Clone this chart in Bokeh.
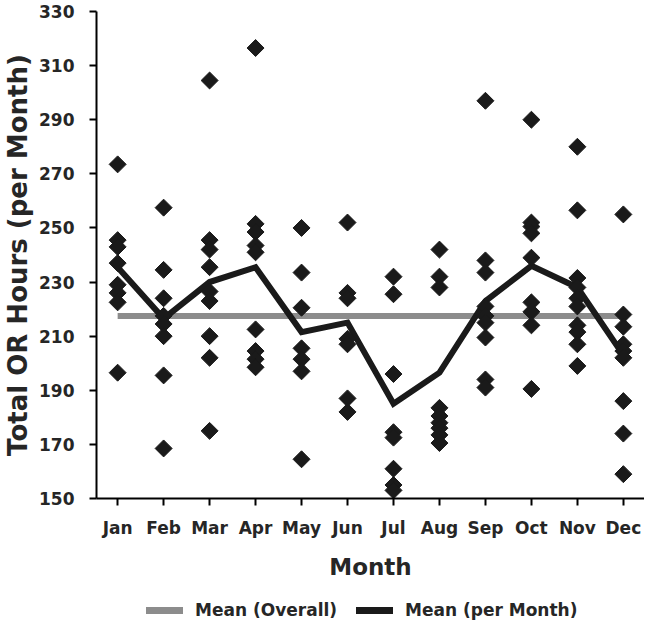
from bokeh.plotting import figure
from bokeh.layouts import column
from bokeh.models import FixedTicker, Range1d, Legend, LegendItem, ColumnDataSource
from bokeh.embed import file_html
from bokeh.resources import INLINE
import math

months = ["Jan", "Feb", "Mar", "Apr", "May", "Jun", "Jul", "Aug", "Sep", "Oct", "Nov", "Dec"]

jan = [273.5, 245.5, 243, 237, 229, 226, 222.5, 196.5]
feb = [257.5, 234.5, 224, 217.5, 214.5, 210, 195.5, 168.5]
mar = [304.5, 245.5, 242, 235.5, 226.5, 223, 210, 202, 175]
apr = [316.5, 251.5, 248.5, 243.5, 241, 212.5, 204.5, 201.5, 198.5]
may = [250, 233.5, 220.5, 205.5, 201.5, 197, 164.5]
jun = [252, 226, 224, 209, 207, 187, 182]
jul = [232, 225.5, 196, 174.5, 172.5, 161, 155, 153]
aug = [242, 232, 228, 183.5, 180.5, 178, 176, 173.5, 170.5]
sep = [297, 238, 233.5, 221, 217.5, 215, 209.5, 194, 191]
oct_ = [290, 252, 250.5, 248, 239, 222.5, 219, 214, 190.5]
nov = [280, 256.5, 231.5, 228, 224, 221, 214, 211.5, 207, 199]
dec = [255, 218, 213.5, 207, 204.5, 202, 186, 174, 159]

monthly_mean = [235.5, 216.5, 230, 235.5, 211.5, 215, 185, 196.5, 223, 236, 228, 203]
overall_mean = 217.5

y_ticks = [150, 170, 190, 210, 230, 250, 270, 290, 310, 330]

all_months = [jan, feb, mar, apr, may, jun, jul, aug, sep, oct_, nov, dec]
xs, ys = [], []
for i, vals in enumerate(all_months):
    for v in vals:
        xs.append(i + 1)
        ys.append(v)
pts = ColumnDataSource(dict(x=xs, y=ys))
month_idx = list(range(1, len(months) + 1))

FONT = "DejaVu Sans"
TXT = "#262626"
GRAY = "#8c8c8c"
BLACK = "#1a1a1a"

p = figure(frame_width=548, frame_height=487,
           x_range=Range1d(0.54, 12.46), y_range=Range1d(150, 330),
           output_backend="svg", toolbar_location=None,
           min_border_left=93, min_border_top=11, min_border_right=0, min_border_bottom=84)
p.xgrid.visible = False
p.ygrid.visible = False
p.outline_line_color = None
p.background_fill_color = "white"
p.border_fill_color = "white"

p.line([1, 12], [overall_mean, overall_mean], line_color=GRAY, line_width=6)
p.line(month_idx, monthly_mean, line_color=BLACK, line_width=6, line_join="miter")
p.scatter("x", "y", source=pts, marker="square", angle=math.pi / 4, size=12,
          fill_color=BLACK, line_color=BLACK)

for ax in (p.xaxis[0], p.yaxis[0]):
    ax.axis_line_color = "black"
    ax.axis_line_width = 2
    ax.major_tick_line_color = "black"
    ax.major_tick_line_width = 2
    ax.major_tick_out = 7
    ax.major_tick_in = 0
    ax.minor_tick_line_color = None
    ax.major_label_text_font = FONT
    ax.major_label_text_font_style = "bold"
    ax.major_label_text_font_size = "17px"
    ax.major_label_text_color = TXT
    ax.axis_label_text_font = FONT
    ax.axis_label_text_font_style = "bold"
    ax.axis_label_text_color = TXT

p.yaxis.ticker = FixedTicker(ticks=y_ticks)
p.yaxis.major_label_standoff = 15
p.yaxis.axis_label = "Total OR Hours (per Month)"
p.yaxis.axis_label_text_font_size = "26px"
p.yaxis.axis_label_standoff = 3

p.xaxis.ticker = FixedTicker(ticks=month_idx)
p.xaxis.major_label_overrides = {i + 1: m for i, m in enumerate(months)}
p.xaxis.major_label_standoff = 12
p.xaxis.axis_label = "Month"
p.xaxis.axis_label_text_font_size = "23px"
p.xaxis.axis_label_standoff = 13

# legend strip below the chart (its frame is aligned with the chart's frame)
lg = figure(width=641, height=40, x_range=Range1d(0, 1), y_range=Range1d(0, 1),
            output_backend="svg", toolbar_location=None,
            x_axis_type=None, y_axis_type=None, min_border=0)
lg.xgrid.visible = False
lg.ygrid.visible = False
lg.outline_line_color = None
lg.background_fill_color = "white"
lg.border_fill_color = "white"
r_overall = lg.line([5, 6], [5, 5], line_color=GRAY, line_width=7, line_cap="round")
r_month = lg.line([5, 6], [5, 5], line_color=BLACK, line_width=7, line_cap="round")

legend = Legend(items=[LegendItem(label="Mean (Overall)", renderers=[r_overall]),
                       LegendItem(label="Mean (per Month)", renderers=[r_month])],
                orientation="horizontal", location=(50, 2))
legend.label_text_font = FONT
legend.label_text_font_style = "bold"
legend.label_text_font_size = "17px"
legend.label_text_color = TXT
legend.glyph_width = 37
legend.glyph_height = 20
legend.label_standoff = 12
legend.spacing = 19
legend.padding = 0
legend.margin = 0
legend.border_line_color = None
legend.background_fill_alpha = 0
lg.add_layout(legend, "center")

layout = column(p, lg, spacing=0)
open("out.html", "w").write(file_html(layout, INLINE))
